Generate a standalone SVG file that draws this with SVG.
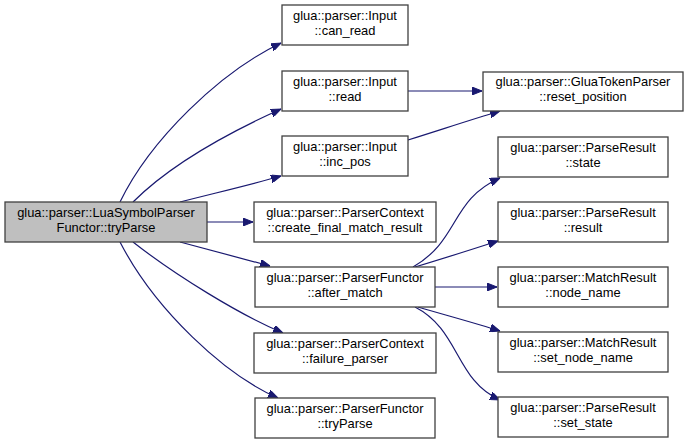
<svg xmlns="http://www.w3.org/2000/svg" width="688" height="444" viewBox="0 0 688 444">
<defs>
<marker id="arr" markerWidth="10" markerHeight="8" refX="10" refY="4" orient="auto" markerUnits="userSpaceOnUse">
<path d="M0,0 L10,4 L0,8 Z" fill="#191970" stroke="#191970" stroke-width="1"/>
</marker>
<style>
.n rect{fill:#ffffff;stroke:#404040;stroke-width:1.3}
.n.m rect{fill:#bfbfbf}
.n text{font-family:"Liberation Sans",Arial,sans-serif;font-size:12.9px;fill:#000000;text-anchor:middle}
.e path{fill:none;stroke:#191970;stroke-width:1.2;marker-end:url(#arr)}
</style>
</defs>
<rect width="688" height="444" fill="#ffffff"/>
<g id="edges" class="e">
<path d="M120,202 C150,140 220,72 281,43"/>
<path d="M133,202 C170,165 230,132 281,109"/>
<path d="M180,202 C215,193 250,185 281,176"/>
<path d="M207,222 L253,222"/>
<path d="M180,242 C210,250 240,258 270,266"/>
<path d="M133,242 C175,275 240,315 283,333"/>
<path d="M120,242 C155,310 225,375 278,398"/>
<path d="M408,91 L482,91"/>
<path d="M408,140 C440,130 470,120 500,111"/>
<path d="M413,267 C460,240 450,200 500,178"/>
<path d="M415,267 C445,258 470,250 498,241"/>
<path d="M435,287 L497,287"/>
<path d="M418,307 C445,315 475,323 500,331"/>
<path d="M415,307 C460,330 455,380 500,400"/>
</g>
<g id="n0" class="n m"><rect x="5" y="202" width="202" height="40"/><text x="106" y="217">glua::parser::LuaSymbolParser</text><text x="106" y="232">Functor::tryParse</text></g>
<g id="n1" class="n"><rect x="282" y="5" width="126" height="40"/><text x="345" y="20">glua::parser::Input</text><text x="345" y="35">::can_read</text></g>
<g id="n2" class="n"><rect x="282" y="71" width="126" height="40"/><text x="345" y="86">glua::parser::Input</text><text x="345" y="101">::read</text></g>
<g id="n3" class="n"><rect x="282" y="136" width="126" height="40"/><text x="345" y="151">glua::parser::Input</text><text x="345" y="166">::inc_pos</text></g>
<g id="n4" class="n"><rect x="254" y="202" width="182" height="40"/><text x="345" y="217">glua::parser::ParserContext</text><text x="345" y="232">::create_final_match_result</text></g>
<g id="n5" class="n"><rect x="255" y="267" width="180" height="40"/><text x="345" y="282">glua::parser::ParserFunctor</text><text x="345" y="297">::after_match</text></g>
<g id="n6" class="n"><rect x="254" y="333" width="182" height="40"/><text x="345" y="348">glua::parser::ParserContext</text><text x="345" y="363">::failure_parser</text></g>
<g id="n7" class="n"><rect x="255" y="398" width="180" height="40"/><text x="345" y="413">glua::parser::ParserFunctor</text><text x="345" y="428">::tryParse</text></g>
<g id="n8" class="n"><rect x="483" y="72" width="200" height="39"/><text x="583" y="86">glua::parser::GluaTokenParser</text><text x="583" y="101">::reset_position</text></g>
<g id="n9" class="n"><rect x="498" y="137" width="170" height="40"/><text x="583" y="152">glua::parser::ParseResult</text><text x="583" y="167">::state</text></g>
<g id="n10" class="n"><rect x="498" y="202" width="170" height="40"/><text x="583" y="217">glua::parser::ParseResult</text><text x="583" y="232">::result</text></g>
<g id="n11" class="n"><rect x="498" y="267" width="170" height="40"/><text x="583" y="282">glua::parser::MatchResult</text><text x="583" y="297">::node_name</text></g>
<g id="n12" class="n"><rect x="498" y="332" width="170" height="40"/><text x="583" y="347">glua::parser::MatchResult</text><text x="583" y="362">::set_node_name</text></g>
<g id="n13" class="n"><rect x="498" y="397" width="170" height="40"/><text x="583" y="412">glua::parser::ParseResult</text><text x="583" y="427">::set_state</text></g>
</svg>
